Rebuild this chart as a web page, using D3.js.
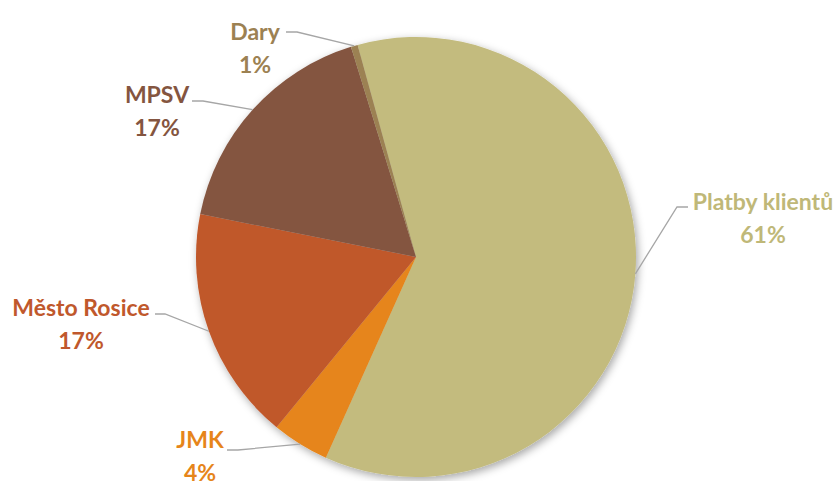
<!DOCTYPE html>
<html>
<head>
<meta charset="utf-8">
<script src="https://cdn.jsdelivr.net/npm/d3@7"></script>
<style>
  body { margin: 0; background: #fff; }
  text { font-family: Lato, "Open Sans", sans-serif; font-weight: bold; }
</style>
</head>
<body>
<script>
// data (clockwise from the first slice)
var categories = ["Platby klientů", "JMK", "Město Rosice", "MPSV", "Dary"];
var values = [61.0, 4.2, 17.2, 17.1, 0.5];
var colors = ["#c3bb7e", "#e6851a", "#c0582c", "#845540", "#9c8152"];

// label anchor (x of text centre, y of first line) and where the leader line bends
var labelPos = [
    { x: 763, y: 210, bx: 677, by: 207, lx: 688 },
    { x: 200, y: 448, bx: 238, by: 450, lx: 227 },
    { x: 81, y: 316, bx: 165, by: 314, lx: 155 },
    { x: 157, y: 103, bx: 203, by: 101, lx: 192 },
    { x: 255, y: 40, bx: 297, by: 32, lx: 286 }
];

var w = 840, h = 481;
var cx = 416, cy = 257, r = 220;
var startDeg = -15.4;

var svg = d3.select("body").append("svg").attr("width", w).attr("height", h);

var defs = svg.append("defs");
var f = defs.append("filter").attr("id", "shadow")
    .attr("x", "-20%").attr("y", "-20%").attr("width", "140%").attr("height", "140%");
f.append("feDropShadow").attr("dx", 2).attr("dy", 3).attr("stdDeviation", 4)
    .attr("flood-color", "#000").attr("flood-opacity", 0.35);

var pie = d3.pie().sort(null).value(function(d) { return d; })
    .startAngle(startDeg * Math.PI / 180)
    .endAngle((startDeg + 360) * Math.PI / 180);
var arcs = pie(values);
var arc = d3.arc().innerRadius(0).outerRadius(r);

var g = svg.append("g").attr("transform", "translate(" + cx + "," + cy + ")");
g.append("g").attr("filter", "url(#shadow)")
    .selectAll("path")
    .data(arcs)
    .enter()
    .append("path")
    .attr("d", arc)
    .attr("fill", function(d, i) { return colors[i]; });

// leader lines
svg.selectAll("polyline")
    .data(arcs)
    .enter()
    .append("polyline")
    .attr("points", function(d, i) {
        var a = (d.startAngle + d.endAngle) / 2;
        var ex = cx + r * Math.sin(a), ey = cy - r * Math.cos(a);
        var p = labelPos[i];
        return [[p.lx, p.by], [p.bx, p.by], [ex, ey]].join(" ");
    })
    .attr("fill", "none")
    .attr("stroke", "#a6a6a6")
    .attr("stroke-width", 1.3);

// labels
var lab = svg.selectAll("text.lab")
    .data(arcs)
    .enter()
    .append("text")
    .attr("class", "lab")
    .attr("text-anchor", "middle")
    .attr("font-size", "23px")
    .attr("fill", function(d, i) { return colors[i] == "#c3bb7e" ? "#bfb878" : colors[i]; });
lab.append("tspan")
    .attr("x", function(d, i) { return labelPos[i].x; })
    .attr("y", function(d, i) { return labelPos[i].y; })
    .text(function(d, i) { return categories[i]; });
lab.append("tspan")
    .attr("x", function(d, i) { return labelPos[i].x; })
    .attr("y", function(d, i) { return labelPos[i].y + 33; })
    .text(function(d, i) { return Math.round(values[i]) + "%"; });
</script>
</body>
</html>
